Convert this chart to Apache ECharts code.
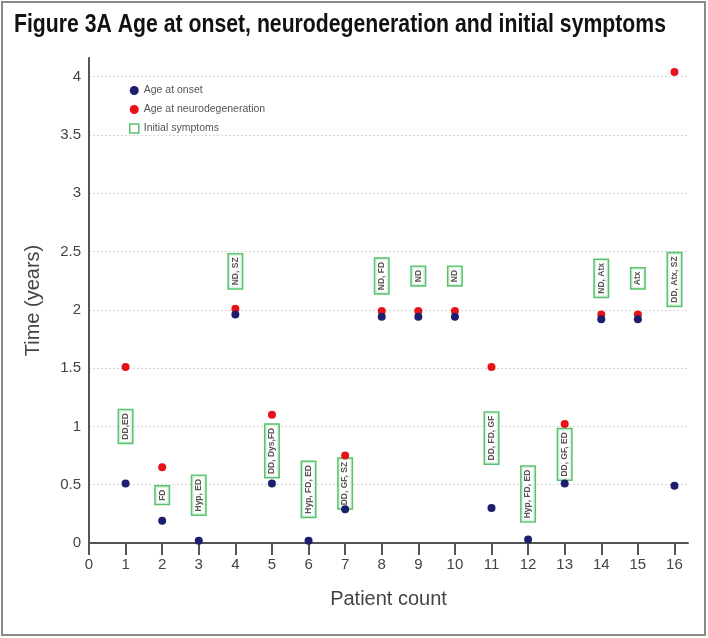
<!DOCTYPE html>
<html>
<head>
<meta charset="utf-8">
<script src="https://cdn.jsdelivr.net/npm/echarts@6/dist/echarts.min.js"></script>
<style>html,body{margin:0;padding:0;background:#fff;}#c{width:708px;height:638px;}</style>
</head>
<body>
<div id="c"></div>
<script>
const patients = [1,2,3,4,5,6,7,8,9,10,11,12,13,14,15,16];
const onsetAge = [0.51,0.19,0.02,1.96,0.51,0.02,0.29,1.94,1.94,1.94,0.30,0.03,0.51,1.92,1.92,0.49];
const neuroAge = [1.51,0.65,null,2.01,1.10,null,0.75,1.99,1.99,1.99,1.51,null,1.02,1.96,1.96,4.04];
const symptomText = ['DD,ED','FD','Hyp, ED','ND, SZ','DD, Dys,FD','Hyp, FD, ED','DD, GF, SZ','ND, FD','ND','ND','DD, FD, GF','Hyp, FD, ED','DD, GF, ED','ND, Atx','Atx','DD, Atx, SZ'];
const symptomLabelY = [1.00,0.41,0.41,2.33,0.79,0.46,0.51,2.29,2.29,2.29,0.90,0.42,0.76,2.27,2.27,2.26];
const xTicks = [0,1,2,3,4,5,6,7,8,9,10,11,12,13,14,15,16];
const yTicks = [0,0.5,1,1.5,2,2.5,3,3.5,4];
const gridLines = [0.5,1,1.5,2,2.5,3,3.5,4];
const titleText = 'Figure 3A Age at onset, neurodegeneration and initial symptoms';

const NAVY = '#1c1f6e', RED = '#e8121a', GREEN = '#2fb34a';
const SANS = '"Liberation Sans", Arial, sans-serif';

// condensed title: scale real text horizontally to the reference width
const titleFont = 'bold 24px "Liberation Sans", Arial, sans-serif';
const cv = document.createElement('canvas').getContext('2d');
cv.font = titleFont;
const titleW = cv.measureText(titleText).width;
const titleScale = 652 / titleW;

const chart = echarts.init(document.getElementById('c'), null, {renderer: 'canvas'});
chart.setOption({
  animation: false,
  graphic: [{
    type: 'rect', silent: true, z: 100,
    shape: {x: 2, y: 2, width: 703, height: 633},
    style: {fill: 'none', stroke: '#8a8a8a', lineWidth: 2}
  }, {
    type: 'text', silent: true, z: 100,
    x: 14, y: 25, scaleX: titleScale, scaleY: 1.05,
    style: {text: titleText, font: titleFont, fill: '#111', verticalAlign: 'middle', align: 'left'}
  }],
  legend: {
    orient: 'vertical', left: 129, top: 85, padding: 0,
    itemWidth: 9, itemHeight: 9, itemGap: 8,
    textStyle: {fontFamily: SANS, fontSize: 10.5, color: '#555'},
    data: [
      {name: 'Age at onset', icon: 'circle'},
      {name: 'Age at neurodegeneration', icon: 'circle'},
      {name: 'Initial symptoms', icon: 'rect', itemStyle: {color: '#fff', borderColor: GREEN, borderWidth: 1.5}}
    ]
  },
  grid: {left: 89, right: 20, top: 58, bottom: 95, containLabel: false},
  xAxis: {
    type: 'value', min: 0, max: 16.37, interval: 1,
    name: 'Patient count', nameLocation: 'middle', nameGap: 46,
    nameTextStyle: {fontFamily: SANS, fontSize: 20, color: '#444'},
    axisLine: {show: true, lineStyle: {color: '#555', width: 2}},
    axisTick: {show: true, length: 12, customValues: xTicks, lineStyle: {color: '#555', width: 2}},
    axisLabel: {customValues: xTicks, fontFamily: SANS, fontSize: 15, color: '#444', margin: 14},
    splitLine: {show: false}
  },
  yAxis: {
    type: 'value', min: 0, max: 4.16, interval: 0.5,
    name: 'Time (years)', nameLocation: 'middle', nameGap: 46,
    nameTextStyle: {fontFamily: SANS, fontSize: 20, color: '#444'},
    axisLine: {show: true, lineStyle: {color: '#555', width: 2}},
    axisTick: {show: false},
    axisLabel: {customValues: yTicks, fontFamily: SANS, fontSize: 15, color: '#444', margin: 8},
    splitLine: {show: false}
  },
  series: [
    {
      name: 'Initial symptoms', type: 'scatter', symbol: 'rect', symbolSize: 0, z: 1,
      itemStyle: {color: '#fff', borderColor: GREEN, borderWidth: 1.5},
      data: patients.map((p, i) => ({value: [p, symptomLabelY[i]], name: symptomText[i]})),
      label: {
        show: true, position: 'inside', rotate: 90,
        formatter: p => p.name,
        fontFamily: SANS, fontWeight: 'bold', fontSize: 8.5, color: '#2a2a2a',
        backgroundColor: '#fff', borderColor: GREEN, borderWidth: 1.5,
        padding: [2, 3]
      },
      emphasis: {disabled: true},
      markLine: {
        silent: true, symbol: 'none', label: {show: false}, z: 0,
        lineStyle: {color: '#d6d6d6', type: [2, 2], width: 1},
        data: gridLines.map(v => ({yAxis: v}))
      }
    },
    {
      name: 'Age at onset', type: 'scatter', symbol: 'circle', symbolSize: 8, z: 4,
      itemStyle: {color: NAVY, opacity: 1},
      data: patients.map((p, i) => [p, onsetAge[i]])
    },
    {
      name: 'Age at neurodegeneration', type: 'scatter', symbol: 'circle', symbolSize: 8, z: 3,
      itemStyle: {color: RED, opacity: 1},
      data: patients.map((p, i) => [p, neuroAge[i]]).filter(d => d[1] !== null)
    }
  ]
});
</script>
</body>
</html>
